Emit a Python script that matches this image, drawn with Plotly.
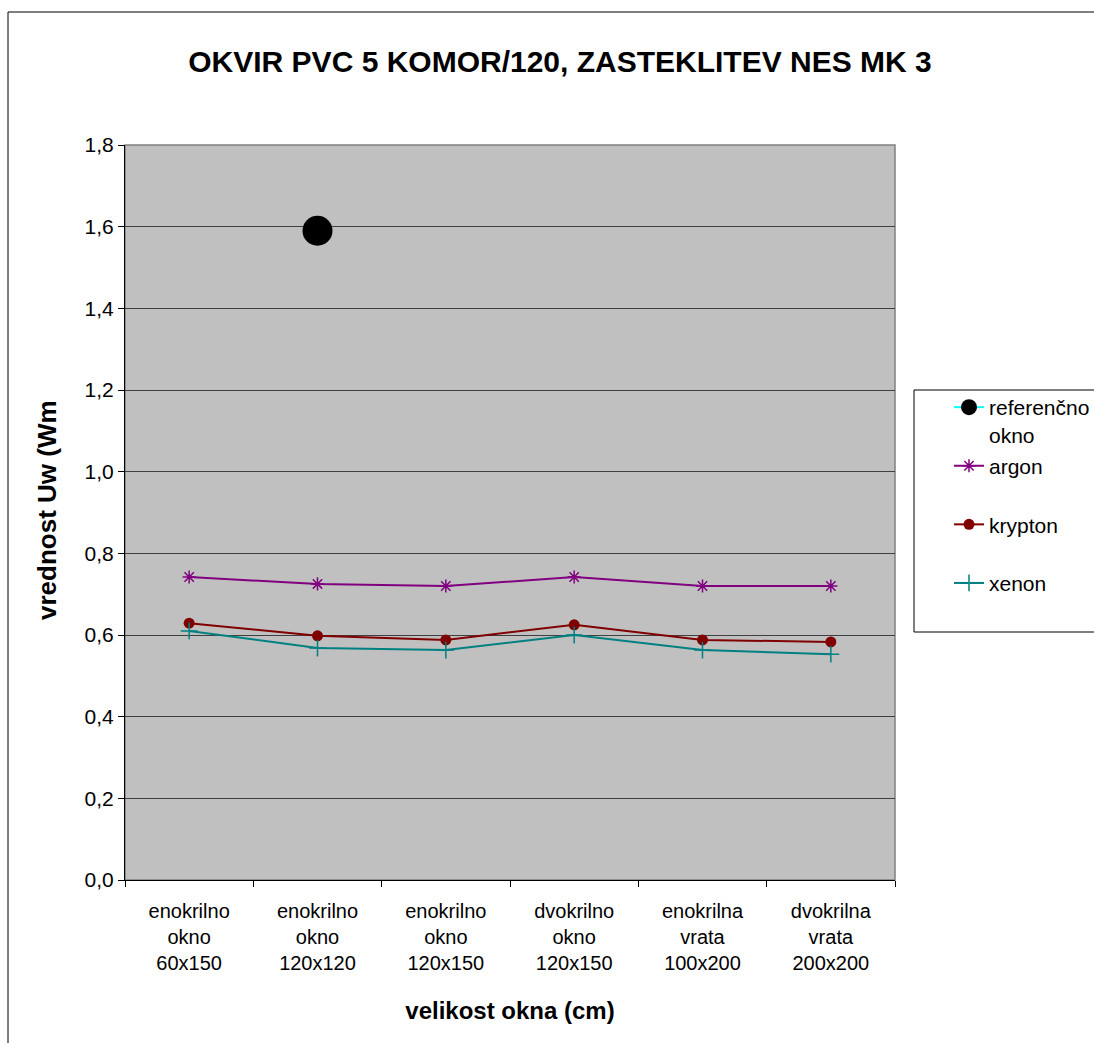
import plotly.graph_objects as go

categories = ["enokrilno<br>okno<br>60x150", "enokrilno<br>okno<br>120x120", "enokrilno<br>okno<br>120x150",
              "dvokrilno<br>okno<br>120x150", "enokrilna<br>vrata<br>100x200", "dvokrilna<br>vrata<br>200x200"]
ref_x = [categories[1]]
ref_y = [1.59]
argon = [0.742, 0.725, 0.720, 0.742, 0.720, 0.720]
krypton = [0.629, 0.598, 0.588, 0.625, 0.588, 0.583]
xenon = [0.610, 0.568, 0.563, 0.600, 0.563, 0.553]
yticks = [0.0, 0.2, 0.4, 0.6, 0.8, 1.0, 1.2, 1.4, 1.6, 1.8]
ytick_text = [f"{v:.1f}".replace(".", ",") for v in yticks]

W, H = 1094, 1043
L, R, T, B = 125, 895, 145, 880

fig = go.Figure()
fig.add_trace(go.Scatter(x=ref_x, y=ref_y, mode="lines+markers", name="referenčno<br>okno",
                         line=dict(color="#00FFFF", width=2), marker=dict(color="black", size=30),
                         legendgroup="a"))
fig.add_trace(go.Scatter(x=categories, y=argon, mode="lines+markers", name="argon<br> ",
                         line=dict(color="#800080", width=2),
                         marker=dict(symbol="asterisk-open", color="#800080", size=11, line=dict(color="#800080", width=1.5)),
                         legendgroup="b"))
fig.add_trace(go.Scatter(x=categories, y=krypton, mode="lines+markers", name="krypton<br> ",
                         line=dict(color="#800000", width=2),
                         marker=dict(symbol="circle", color="#800000", size=11),
                         legendgroup="c"))
fig.add_trace(go.Scatter(x=categories, y=xenon, mode="lines+markers", name="xenon<br> ",
                         line=dict(color="#008080", width=2),
                         marker=dict(symbol="cross-thin-open", color="#008080", size=12, line=dict(color="#008080", width=1.5)),
                         legendgroup="d"))

font = "Liberation Sans, Arial, sans-serif"
fig.update_layout(
    width=W, height=H,
    margin=dict(l=L, r=W - R, t=T, b=H - B, autoexpand=False),
    paper_bgcolor="white", plot_bgcolor="#C0C0C0",
    font=dict(family=font, size=20, color="black"),
    title=dict(text="<b>OKVIR PVC 5 KOMOR/120, ZASTEKLITEV NES MK 3</b>", x=560 / W, xanchor="center",
               y=1 - 61 / H, yanchor="middle", font=dict(size=30, family=font)),
    showlegend=True,
    legend=dict(x=949 / W, xref="container", xanchor="left", y=1 - 387 / H, yref="container", yanchor="top",
                bgcolor="rgba(0,0,0,0)", borderwidth=0, font=dict(size=21),
                tracegroupgap=1, traceorder="grouped", valign="top"),
    xaxis=dict(type="category", categoryorder="array", categoryarray=categories, range=[-0.5, 5.5],
               tickson="boundaries", ticks="outside", ticklen=6, tickcolor="black", ticklabelstandoff=13,
               showline=True, linecolor="black", linewidth=1, showgrid=False,
               tickfont=dict(size=20), title=dict(text="<b>velikost okna (cm)</b>", font=dict(size=24), standoff=29)),
    yaxis=dict(range=[0, 1.8], tickvals=yticks, ticktext=ytick_text, ticks="outside", ticklen=6, tickcolor="black",
               showline=True, linecolor="black", linewidth=1, showgrid=True, gridcolor="#404040", gridwidth=1,
               zeroline=False, tickfont=dict(size=21)),
)
# plot area border (gray), legend box and chart outer border
fig.add_shape(type="rect", xref="paper", yref="paper", x0=0, x1=1, y0=0, y1=1,
              line=dict(color="#808080", width=1.5), layer="below")
fig.add_shape(type="rect", xref="paper", yref="paper",
              x0=(914 - L) / (R - L), x1=(1110 - L) / (R - L),
              y0=(B - 632) / (B - T), y1=(B - 390) / (B - T),
              line=dict(color="black", width=1), fillcolor="white")
fig.add_shape(type="rect", xref="paper", yref="paper",
              x0=(8 - L) / (R - L), x1=(1110 - L) / (R - L),
              y0=-(1060 - B) / (B - T), y1=(B - 12) / (B - T),
              line=dict(color="black", width=1))
fig.add_annotation(text="<b>vrednost Uw (Wm</b>", textangle=-90, xref="paper", yref="paper",
                   x=(47 - L) / (R - L), y=(B - 510) / (B - T), showarrow=False, font=dict(size=26),
                   xanchor="center", yanchor="middle")
fig.write_html("out.html")
